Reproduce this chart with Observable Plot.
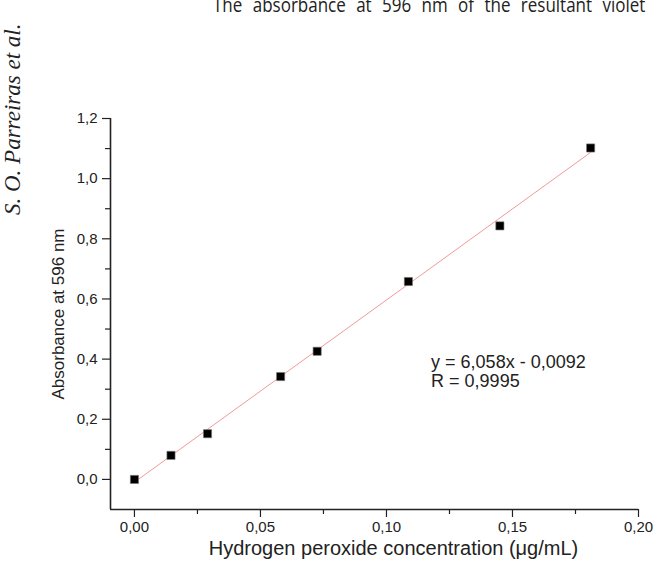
<!DOCTYPE html>
<html>
<head>
<meta charset="utf-8">
<script src="https://cdn.jsdelivr.net/npm/d3@7"></script>
<script src="https://cdn.jsdelivr.net/npm/@observablehq/plot@0.6"></script>
<style>
  html, body { margin: 0; padding: 0; background: #fff; }
  #wrap { position: relative; width: 654px; height: 568px; overflow: hidden; background: #fff; }
  #header { position: absolute; left: 213px; top: -9px; white-space: nowrap; transform-origin: 0 0; transform: scaleX(0.85);
            font-family: "Open Sans", "Noto Sans", sans-serif; font-size: 20px; color: #222; word-spacing: 7px; }
  #side { position: absolute; left: 1px; top: 215px; transform-origin: 0 0; transform: rotate(-90deg);
          white-space: nowrap; font-family: "Liberation Serif", "DejaVu Serif", serif; font-style: italic;
          font-size: 23px; line-height: 23px; color: #222; }
  #chart { position: absolute; left: 0; top: 0; }
</style>
</head>
<body>
<div id="wrap">
  <div id="chart"></div>
  <div id="header">The absorbance at 596 nm of the resultant violet</div>
  <div id="side">S. O. Parreiras et al.</div>
</div>
<script>
// Data
const concentration = [0, 0.0145, 0.029, 0.058, 0.0725, 0.1087, 0.145, 0.181];
const absorbance    = [0, 0.080, 0.152, 0.342, 0.426, 0.658, 0.843, 1.102];
const fitSlope = 6.058;
const fitIntercept = -0.0092;
const equationLine1 = "y = 6,058x - 0,0092";
const equationLine2 = "R = 0,9995";
const equationAt1 = [0.1177, 0.389];
const equationAt2 = [0.1177, 0.328];
const xDomain = [-0.0095, 0.20];
const yDomain = [-0.1, 1.2];
const xMajorTicks = [0, 0.05, 0.10, 0.15, 0.20];
const xMinorTicks = [0.025, 0.075, 0.125, 0.175];
const yMajorTicks = [0, 0.2, 0.4, 0.6, 0.8, 1.0, 1.2];
const yMinorTicks = [0.1, 0.3, 0.5, 0.7, 0.9, 1.1];
const xTitle = "Hydrogen peroxide concentration (μg/mL)";
const yTitle = "Absorbance at 596 nm";

const points = concentration.map((c, i) => ({c, a: absorbance[i]}));
const fitEnds = [concentration[0], concentration[concentration.length - 1]]
  .map(c => ({c, a: fitSlope * c + fitIntercept}));
const equations = [
  {t: equationLine1, x: equationAt1[0], y: equationAt1[1]},
  {t: equationLine2, x: equationAt2[0], y: equationAt2[1]}
];

const comma = digits => d => d.toFixed(digits).replace(".", ",");
const axisColor = "#222";

const chart = Plot.plot({
  width: 654,
  height: 568,
  marginLeft: 110,
  marginRight: 16,
  marginTop: 118,
  marginBottom: 59,
  x: {domain: xDomain},
  y: {domain: yDomain},
  style: {fontFamily: "'Liberation Sans', Arial, sans-serif", fontSize: "15px", color: axisColor, background: "white"},
  marks: [
    Plot.axisX(xMajorTicks, {tickSize: 8, tickPadding: 4, tickFormat: comma(2), label: null, strokeWidth: 1.2}),
    Plot.axisX(xMinorTicks, {tickSize: 5, tickFormat: () => "", label: null, strokeWidth: 1.2}),
    Plot.axisY(yMajorTicks, {tickSize: 8, tickPadding: 5, tickFormat: comma(1), label: null, strokeWidth: 1.2}),
    Plot.axisY(yMinorTicks, {tickSize: 5, tickFormat: () => "", label: null, strokeWidth: 1.2}),
    Plot.ruleY([yDomain[0]], {stroke: axisColor, strokeWidth: 1.6}),
    Plot.ruleX([xDomain[0]], {stroke: axisColor, strokeWidth: 1.6}),
    Plot.line(fitEnds, {x: "c", y: "a", stroke: "#f09a9a", strokeWidth: 1}),
    Plot.dot(points, {x: "c", y: "a", symbol: "square", r: 4.6, fill: "#000", stroke: "#777", strokeWidth: 0.6}),
    Plot.text(equations, {x: "x", y: "y", text: "t", textAnchor: "start", lineAnchor: "middle", fontSize: 18, fill: axisColor}),
    Plot.text([xTitle], {frameAnchor: "bottom", textAnchor: "middle", lineAnchor: "middle", dy: 39, dx: 19, fontSize: 20, fill: axisColor}),
    Plot.text([yTitle], {frameAnchor: "left", textAnchor: "middle", lineAnchor: "middle", dx: -52, rotate: -90, fontSize: 17, fill: axisColor})
  ]
});
document.getElementById("chart").appendChild(chart);
</script>
</body>
</html>
